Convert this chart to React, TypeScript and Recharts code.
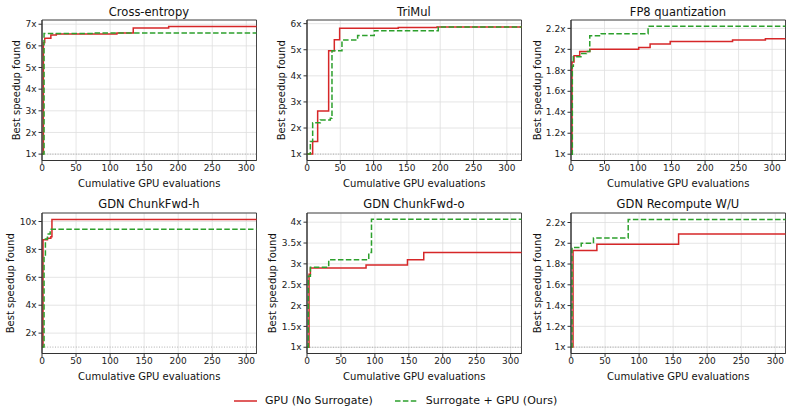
import React from 'react';
import { LineChart, Line, XAxis, YAxis, CartesianGrid, ReferenceLine, ReferenceArea } from 'recharts';

type Pt = { evals: number; speedup: number };

const RED = '#d62728';
const GREEN = '#2ca02c';

const xTicks = [0, 50, 100, 150, 200, 250, 300];

const pts = (rows: number[][]): Pt[] => rows.map(([evals, speedup]) => ({ evals, speedup }));

// best-so-far speedup, one step per improvement
const crossEntropyGpu = pts([[0, 1], [2, 6.15], [4, 6.35], [13, 6.5], [21, 6.55], [110, 6.6], [134, 6.82], [186, 6.9], [315, 6.9]]);
const crossEntropySurrogate = pts([[0, 1], [3, 6.57], [75, 6.6], [315, 6.6]]);

const triMulGpu = pts([[0, 1], [8.5, 1.48], [16, 2.65], [32.5, 4.96], [41, 5.38], [49, 5.82], [137, 5.85], [195, 5.87], [322, 5.87]]);
const triMulSurrogate = pts([[0, 1], [5, 1.48], [8.5, 2.2], [20, 2.31], [35, 2.37], [37.5, 4.96], [52.5, 5.37], [76, 5.55], [101, 5.73], [197, 5.87], [322, 5.87]]);

const fp8Gpu = pts([[0, 1], [1.5, 1.88], [4.5, 1.94], [13, 1.98], [28, 2.0], [101, 2.017], [118, 2.05], [148, 2.075], [241, 2.09], [290, 2.1], [320, 2.1]]);
const fp8Surrogate = pts([[0, 1], [2, 1.84], [3.5, 1.93], [16, 1.96], [23, 1.98], [28, 2.13], [45, 2.15], [115, 2.22], [320, 2.22]]);

const chunkHGpu = pts([[0, 1], [1.5, 8.7], [8, 8.8], [13, 8.9], [14.6, 10.15], [315, 10.15]]);
const chunkHSurrogate = pts([[0, 1], [3, 7.5], [5, 8.75], [8, 9.1], [12, 9.45], [315, 9.45]]);

const chunkOGpu = pts([[0, 1], [3, 2.75], [5, 2.9], [87, 2.97], [148, 3.1], [172, 3.27], [316, 3.27]]);
const chunkOSurrogate = pts([[0, 1], [2, 2.7], [5, 2.92], [32, 3.1], [91, 3.27], [95, 4.07], [316, 4.07]]);

const recomputeGpu = pts([[0, 1], [3, 1.93], [38, 1.99], [158, 2.09], [315, 2.09]]);
const recomputeSurrogate = pts([[0, 1], [1.5, 1.96], [15, 2.0], [33, 2.05], [84, 2.23], [315, 2.23]]);

type PanelCfg = {
  title: string;
  gpu: Pt[];
  surrogate: Pt[];
  xMax: number;
  yDomain: [number, number];
  yTicks: number[];
  labelOffset: number;
  col: number;
  row: number;
};

const panels: PanelCfg[] = [
  { title: 'Cross-entropy', gpu: crossEntropyGpu, surrogate: crossEntropySurrogate, xMax: 315, yDomain: [0.705, 7.195], yTicks: [1, 2, 3, 4, 5, 6, 7], labelOffset: 14, col: 0, row: 0 },
  { title: 'TriMul', gpu: triMulGpu, surrogate: triMulSurrogate, xMax: 322, yDomain: [0.755, 6.14], yTicks: [1, 2, 3, 4, 5, 6], labelOffset: 14, col: 1, row: 0 },
  { title: 'FP8 quantization', gpu: fp8Gpu, surrogate: fp8Surrogate, xMax: 320, yDomain: [0.94, 2.28], yTicks: [1, 1.2, 1.4, 1.6, 1.8, 2, 2.2], labelOffset: 6, col: 2, row: 0 },
  { title: 'GDN ChunkFwd-h', gpu: chunkHGpu, surrogate: chunkHSurrogate, xMax: 315, yDomain: [0.54, 10.61], yTicks: [2, 4, 6, 8, 10], labelOffset: 8, col: 0, row: 1 },
  { title: 'GDN ChunkFwd-o', gpu: chunkOGpu, surrogate: chunkOSurrogate, xMax: 316, yDomain: [0.85, 4.22], yTicks: [1, 1.5, 2, 2.5, 3, 3.5, 4], labelOffset: 5, col: 1, row: 1 },
  { title: 'GDN Recompute W/U', gpu: recomputeGpu, surrogate: recomputeSurrogate, xMax: 315, yDomain: [0.9385, 2.2915], yTicks: [1, 1.2, 1.4, 1.6, 1.8, 2, 2.2], labelOffset: 6, col: 2, row: 1 },
];

// plot-area geometry
const COL_X = [41.7, 306.7, 570.7];
const ROW_Y = [20, 212.7];
const PLOT_W = 214.5;
const PLOT_H = 140.5;
const Y_AXIS_W = 40;
const TOP_M = 5;
const RIGHT_M = 5;
const X_AXIS_H = 32;

const tickStyle = { fontSize: 9, fill: '#222' };

const Panel = ({ cfg }: { cfg: PanelCfg }) => {
  const left = COL_X[cfg.col] - Y_AXIS_W;
  const top = ROW_Y[cfg.row] - TOP_M;
  return (
    <div style={{ position: 'absolute', left, top }}>
      <div
        style={{
          position: 'absolute',
          left: Y_AXIS_W,
          width: PLOT_W,
          top: TOP_M - 8.5 - 7,
          lineHeight: '14px',
          fontSize: 11.5,
          textAlign: 'center',
          color: '#111',
        }}
      >
        {cfg.title}
      </div>
      <LineChart
        width={Y_AXIS_W + PLOT_W + RIGHT_M}
        height={TOP_M + PLOT_H + X_AXIS_H}
        margin={{ top: TOP_M, right: RIGHT_M, bottom: 0, left: 0 }}
      >
        <CartesianGrid stroke="#dedede" strokeWidth={0.8} />
        <XAxis
          type="number"
          dataKey="evals"
          domain={[0, cfg.xMax]}
          ticks={xTicks}
          interval={0}
          height={X_AXIS_H}
          tickSize={3.5}
          tickMargin={1}
          tick={tickStyle}
          stroke="#333"
          label={{ value: 'Cumulative GPU evaluations', position: 'insideBottom', offset: 6, fontSize: 10, fill: '#111' }}
        />
        <YAxis
          type="number"
          domain={cfg.yDomain}
          ticks={cfg.yTicks}
          interval={0}
          width={Y_AXIS_W}
          tickSize={3.5}
          tickMargin={2}
          tick={tickStyle}
          stroke="#333"
          tickFormatter={(v: number) => `${v}x`}
          label={{
            value: 'Best speedup found',
            angle: -90,
            position: 'insideLeft',
            offset: cfg.labelOffset,
            fontSize: 10,
            fill: '#111',
            style: { textAnchor: 'middle' },
          }}
        />
        <ReferenceLine y={1} stroke="#999" strokeWidth={0.8} strokeDasharray="1 1.6" />
        <Line
          data={cfg.gpu}
          dataKey="speedup"
          type="stepAfter"
          stroke={RED}
          strokeWidth={1.5}
          dot={false}
          activeDot={false}
          isAnimationActive={false}
        />
        <Line
          data={cfg.surrogate}
          dataKey="speedup"
          type="stepAfter"
          stroke={GREEN}
          strokeWidth={1.5}
          strokeDasharray="5.5 2.4"
          dot={false}
          activeDot={false}
          isAnimationActive={false}
        />
        <ReferenceArea
          x1={0}
          x2={cfg.xMax}
          y1={cfg.yDomain[0]}
          y2={cfg.yDomain[1]}
          fill="none"
          stroke="#333"
          strokeWidth={0.9}
          ifOverflow="visible"
        />
      </LineChart>
    </div>
  );
};

const Legend = () => (
  <div
    style={{
      position: 'absolute',
      left: 234,
      top: 393.7,
      display: 'flex',
      alignItems: 'center',
      fontSize: 11,
      lineHeight: '14px',
      color: '#111',
    }}
  >
    <svg width={23} height={4}>
      <line x1={0} x2={23} y1={2} y2={2} stroke={RED} strokeWidth={1.5} />
    </svg>
    <span style={{ marginLeft: 8 }}>GPU (No Surrogate)</span>
    <svg width={23} height={4} style={{ marginLeft: 22 }}>
      <line x1={0} x2={23} y1={2} y2={2} stroke={GREEN} strokeWidth={1.5} strokeDasharray="5.5 2.4" />
    </svg>
    <span style={{ marginLeft: 8 }}>Surrogate + GPU (Ours)</span>
  </div>
);

export default function App() {
  return (
    <div
      style={{
        position: 'absolute',
        left: 0,
        top: 0,
        width: 793,
        height: 413,
        background: '#fff',
        fontFamily: '"DejaVu Sans", sans-serif',
        overflow: 'hidden',
      }}
    >
      {panels.map((p) => (
        <Panel key={p.title} cfg={p} />
      ))}
      <Legend />
    </div>
  );
}
